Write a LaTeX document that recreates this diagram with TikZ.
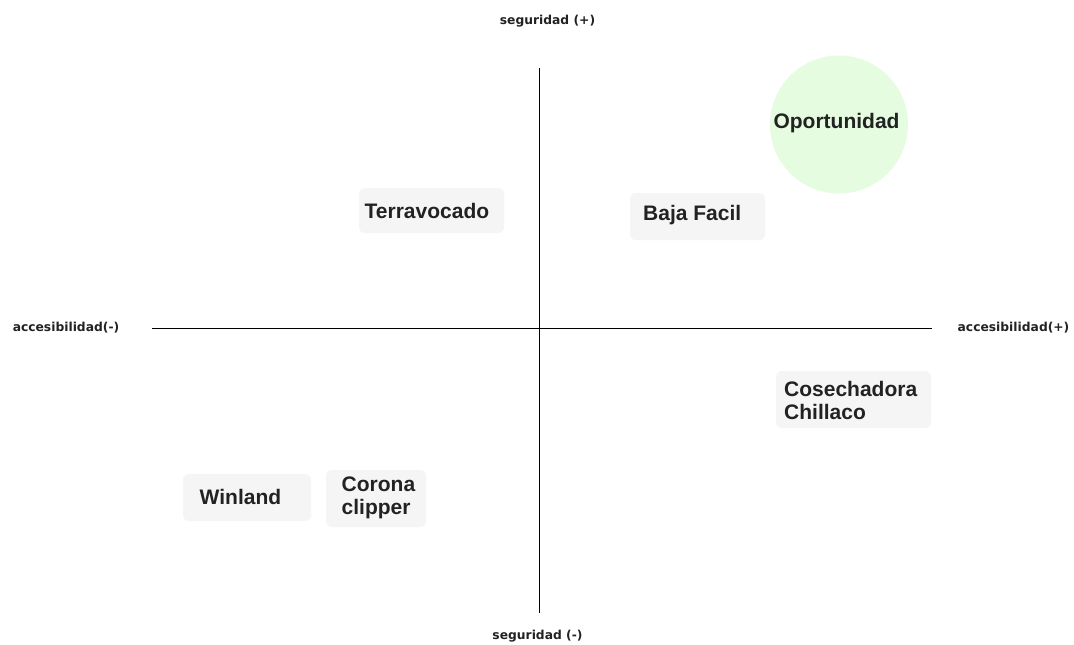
\documentclass[tikz,border=0pt]{standalone}
\usepackage{fontspec}
\setmainfont{Liberation Sans}
\newfontfamily\labelfont{DejaVu Sans}
\definecolor{boxfill}{HTML}{F5F5F5}
\definecolor{oppfill}{HTML}{E5FCE0}
\definecolor{txt}{HTML}{222222}
\begin{document}
\begin{tikzpicture}[x=1pt,y=-1pt,
  axis/.style={draw=black,line width=0.9pt},
  axlabel/.style={font=\labelfont\fontsize{12.3}{14}\selectfont\bfseries,text=txt,inner sep=0pt},
  itembox/.style={fill=boxfill,rounded corners=6pt,inner sep=0pt},
  itemtext/.style={font=\fontsize{21}{23}\selectfont\bfseries,text=txt,inner sep=0pt,align=left,anchor=west},
]
\useasboundingbox (0,0) rectangle (1074,645);
\fill[white] (0,0) rectangle (1074,645);
% axes
\coordinate (vt) at (539,68);
\coordinate (vb) at (539,613);
\coordinate (hl) at (152,328);
\coordinate (hr) at (932,328);
\draw[axis] (vt) -- (vb);
\draw[axis] (hl) -- (hr);
% axis labels
\node[axlabel] (top) at (547.5,21) {seguridad (+)};
\node[axlabel] (bot) at (537.5,636) {seguridad (-)};
\node[axlabel] (left) at (66,328) {accesibilidad(-)};
\node[axlabel] (right) at (1013.5,328) {accesibilidad(+)};
% opportunity
\node[circle,fill=oppfill,minimum size=138pt,inner sep=0pt] (opp) at (839,124.5) {};
\node[font=\fontsize{21}{23}\selectfont\bfseries,text=txt,inner sep=0pt] (opptext) at (836.5,123) {Oportunidad};
% item boxes
\node[itembox,minimum width=145pt,minimum height=45pt] (terrabox) at (431.5,210.5) {};
\node[itembox,minimum width=135pt,minimum height=47pt] (bajabox) at (697.5,216.5) {};
\node[itembox,minimum width=155pt,minimum height=57pt] (cosebox) at (853.5,399.5) {};
\node[itembox,minimum width=128pt,minimum height=47pt] (winbox) at (247,497.5) {};
\node[itembox,minimum width=100pt,minimum height=57pt] (coronabox) at (376,498.5) {};
% item texts
\node[itemtext] (terra) at (364.5,211) {Terravocado};
\node[itemtext] (baja) at (643,215) {Baja Facil};
\node[itemtext] (cose) at (784,400) {Cosechadora\\Chillaco};
\node[itemtext] (win) at (199.5,497) {Winland};
\node[itemtext] (corona) at (341.5,497.5) {Corona\\clipper};
\end{tikzpicture}
\end{document}
